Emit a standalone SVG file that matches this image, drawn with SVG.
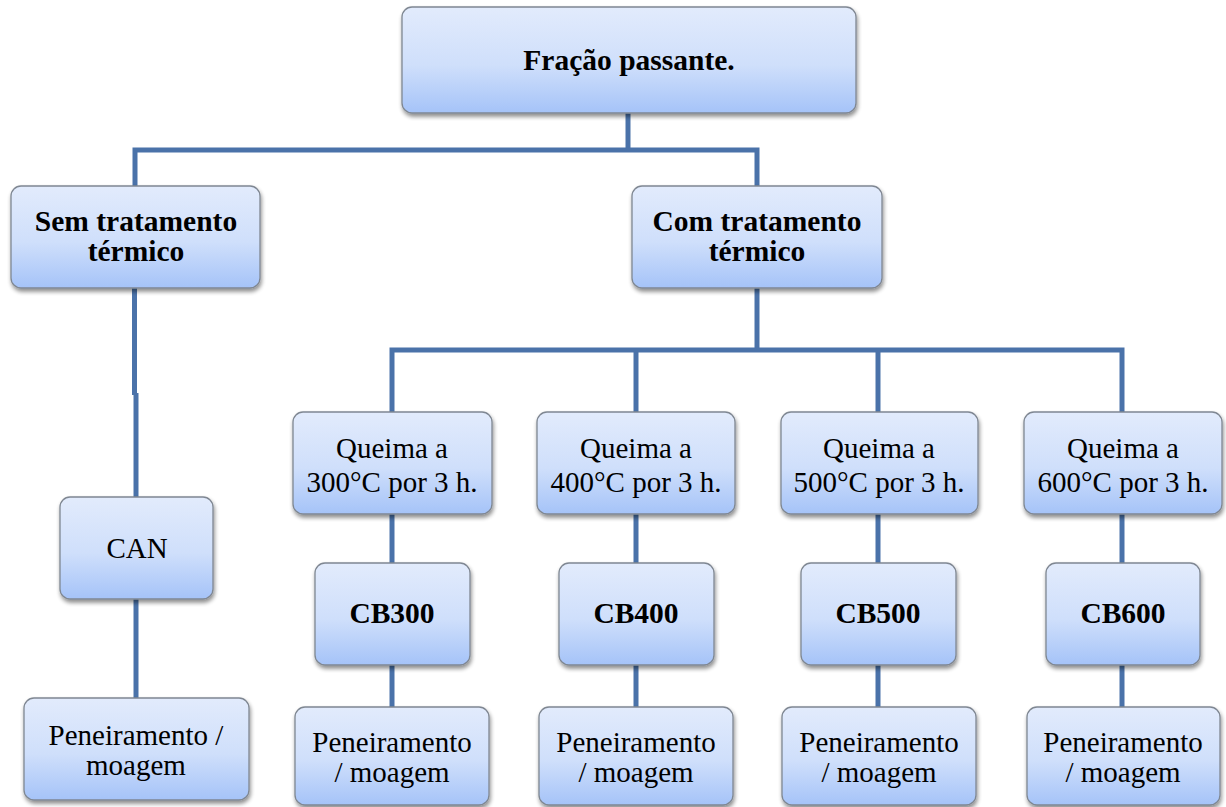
<svg xmlns="http://www.w3.org/2000/svg" width="1226" height="807" viewBox="0 0 1226 807">
  <defs>
    <linearGradient id="boxFill" x1="0" y1="0" x2="0" y2="1">
      <stop offset="0" stop-color="#e2ebfc"/>
      <stop offset="0.55" stop-color="#cfdffb"/>
      <stop offset="1" stop-color="#a5c3f8"/>
    </linearGradient>
    <filter id="shadow" x="-10%" y="-10%" width="125%" height="130%">
      <feGaussianBlur in="SourceAlpha" stdDeviation="2"/>
      <feOffset dx="1" dy="3" result="b"/>
      <feComponentTransfer><feFuncA type="linear" slope="0.45"/></feComponentTransfer>
      <feMerge><feMergeNode/><feMergeNode in="SourceGraphic"/></feMerge>
    </filter>
  </defs>
  <style>
    .box { fill: url(#boxFill); stroke: #7f8792; stroke-width: 1.3; filter: url(#shadow); }
    .lbl { font-family: "Liberation Serif", "Times New Roman", serif; font-size: 29px; fill: #000; text-anchor: middle; }
    .b { font-weight: bold; font-size: 29.5px; }
    .conn { fill: none; stroke: #4a72a9; stroke-width: 5; stroke-linejoin: miter; }
  </style>

  <!-- connectors -->
  <g id="connectors" class="conn">
    <path d="M628 113 V150"/>
    <path d="M135 186 V150 H757 V186"/>
    <path d="M134.5 288 V395"/>
    <path d="M136 393 V497"/>
    <path d="M136 599 V698"/>
    <path d="M757 288 V350"/>
    <path d="M392 412 V350 H1122 V412"/>
    <path d="M636 350 V412"/>
    <path d="M878 350 V412"/>
    <path d="M392 514 V563 M392 665 V707"/>
    <path d="M636 514 V563 M636 665 V707"/>
    <path d="M878 514 V563 M878 665 V707"/>
    <path d="M1122 514 V563 M1122 665 V707"/>
  </g>

  <g id="root">
    <rect class="box" x="402" y="7" width="454" height="106" rx="10"/>
    <text class="lbl b" x="629" y="70">Fração passante.</text>
  </g>

  <g id="sem">
    <rect class="box" x="11" y="186" width="249" height="102" rx="10"/>
    <text class="lbl b" x="136" y="231">Sem tratamento</text>
    <text class="lbl b" x="136" y="261">térmico</text>
  </g>

  <g id="com">
    <rect class="box" x="632" y="186" width="250" height="102" rx="10"/>
    <text class="lbl b" x="757" y="231">Com tratamento</text>
    <text class="lbl b" x="757" y="261">térmico</text>
  </g>

  <g id="can">
    <rect class="box" x="60" y="497" width="153" height="102" rx="10"/>
    <text class="lbl" x="137" y="558">CAN</text>
  </g>

  <g id="pen-can">
    <rect class="box" x="24" y="698" width="225" height="102" rx="10"/>
    <text class="lbl" x="136" y="745">Peneiramento /</text>
    <text class="lbl" x="136" y="775">moagem</text>
  </g>

  <g id="q300">
    <rect class="box" x="293" y="412" width="199" height="102" rx="10"/>
    <text class="lbl" x="392" y="458">Queima a</text>
    <text class="lbl" x="392" y="492">300°C por 3 h.</text>
  </g>
  <g id="q400">
    <rect class="box" x="537" y="412" width="198" height="102" rx="10"/>
    <text class="lbl" x="636" y="458">Queima a</text>
    <text class="lbl" x="636" y="492">400°C por 3 h.</text>
  </g>
  <g id="q500">
    <rect class="box" x="781" y="412" width="197" height="102" rx="10"/>
    <text class="lbl" x="879" y="458">Queima a</text>
    <text class="lbl" x="879" y="492">500°C por 3 h.</text>
  </g>
  <g id="q600">
    <rect class="box" x="1024" y="412" width="198" height="102" rx="10"/>
    <text class="lbl" x="1123" y="458">Queima a</text>
    <text class="lbl" x="1123" y="492">600°C por 3 h.</text>
  </g>

  <g id="cb300">
    <rect class="box" x="315" y="563" width="155" height="102" rx="10"/>
    <text class="lbl b" x="392" y="623">CB300</text>
  </g>
  <g id="cb400">
    <rect class="box" x="559" y="563" width="155" height="102" rx="10"/>
    <text class="lbl b" x="636" y="623">CB400</text>
  </g>
  <g id="cb500">
    <rect class="box" x="801" y="563" width="155" height="102" rx="10"/>
    <text class="lbl b" x="878" y="623">CB500</text>
  </g>
  <g id="cb600">
    <rect class="box" x="1046" y="563" width="154" height="102" rx="10"/>
    <text class="lbl b" x="1123" y="623">CB600</text>
  </g>

  <g id="pen300">
    <rect class="box" x="295" y="707" width="194" height="98" rx="10"/>
    <text class="lbl" x="392" y="752">Peneiramento</text>
    <text class="lbl" x="392" y="782">/ moagem</text>
  </g>
  <g id="pen400">
    <rect class="box" x="539" y="707" width="194" height="98" rx="10"/>
    <text class="lbl" x="636" y="752">Peneiramento</text>
    <text class="lbl" x="636" y="782">/ moagem</text>
  </g>
  <g id="pen500">
    <rect class="box" x="782" y="707" width="194" height="98" rx="10"/>
    <text class="lbl" x="879" y="752">Peneiramento</text>
    <text class="lbl" x="879" y="782">/ moagem</text>
  </g>
  <g id="pen600">
    <rect class="box" x="1027" y="707" width="193" height="98" rx="10"/>
    <text class="lbl" x="1123" y="752">Peneiramento</text>
    <text class="lbl" x="1123" y="782">/ moagem</text>
  </g>
</svg>
